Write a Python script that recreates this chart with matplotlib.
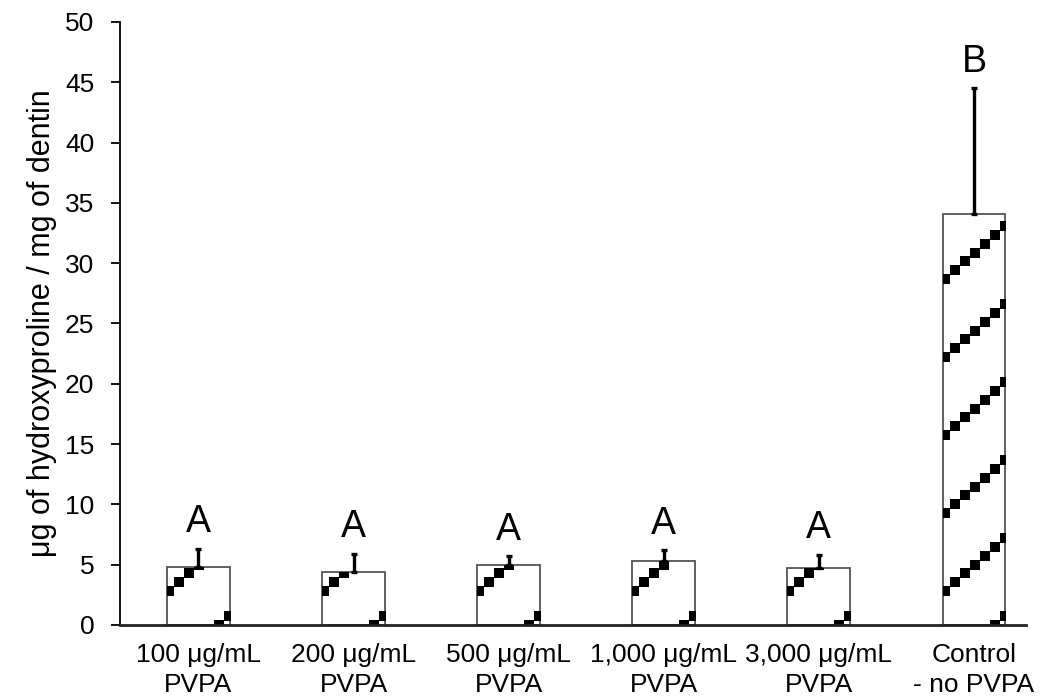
import numpy as np
import matplotlib
matplotlib.use("Agg")
import matplotlib.pyplot as plt
from matplotlib.transforms import IdentityTransform

# data
categories = ["100 \u03bcg/mL\nPVPA", "200 \u03bcg/mL\nPVPA", "500 \u03bcg/mL\nPVPA",
              "1,000 \u03bcg/mL\nPVPA", "3,000 \u03bcg/mL\nPVPA", "Control\n- no PVPA"]
means = [4.8, 4.4, 5.0, 5.3, 4.7, 34.1]
errors = [1.5, 1.5, 0.7, 0.9, 1.1, 10.4]
letters = ["A", "A", "A", "A", "A", "B"]

plt.rcParams['font.family'] = ['Liberation Sans', 'DejaVu Sans']

fig = plt.figure(figsize=(10.52, 6.98), dpi=100)
ax = fig.add_axes([0.1141, 0.1046, 0.8612, 0.8639])

x = np.arange(len(categories))
bars = ax.bar(x, means, width=0.405, color='white', edgecolor='#555555', linewidth=1.3, zorder=2)
ax.errorbar(x, means, yerr=[np.zeros(len(errors)), errors], fmt='none',
            ecolor='black', elinewidth=2.4, capsize=2.5, capthick=2.4, zorder=3)

for xi, m, e, lab in zip(x, means, errors, letters):
    ax.annotate(lab, (xi, m + e), xytext=(0, 12), textcoords='offset points',
                ha='center', va='baseline', fontsize=27)

ax.set_xlim(-0.505, 5.335)
ax.set_ylim(0, 50)
ax.set_yticks(range(0, 51, 5))
ax.set_xticks(x)
ax.set_xticklabels(categories, fontsize=19, linespacing=1.3)
ax.tick_params(axis='x', length=0, pad=13)
ax.tick_params(axis='y', length=6.5, width=1.3, labelsize=19, pad=12)
ax.set_ylabel("\u03bcg of hydroxyproline / mg of dentin", fontsize=22, labelpad=6)
for s in ['top', 'right']:
    ax.spines[s].set_visible(False)
ax.spines['left'].set_linewidth(1.3)
ax.spines['bottom'].set_linewidth(2.0)
ax.spines['bottom'].set_color('#222222')

# pattern fill: diagonal rows of small black squares, clipped to each bar
fig.canvas.draw()
step_x, step_y, period, first = 10.0, 8.8, 78.0, 34.0
for bar in bars:
    (x0, y0), (x1, y1) = ax.transData.transform([(bar.get_x(), 0),
                                                 (bar.get_x() + bar.get_width(), bar.get_height())])
    pts = []
    for k in range(-1, int((y1 - y0) / period) + 2):
        for j in range(0, 8):
            px = x0 + 2 + j * step_x
            py = y0 + first + k * period + j * step_y
            pts.append((px, py))
    pts = np.array(pts)
    sc = ax.scatter(pts[:, 0], pts[:, 1], marker='s', s=48, color='black',
                    linewidths=0, transform=IdentityTransform(), zorder=2.5)
    sc.set_clip_path(bar)

fig.savefig("out.png", dpi=100)
